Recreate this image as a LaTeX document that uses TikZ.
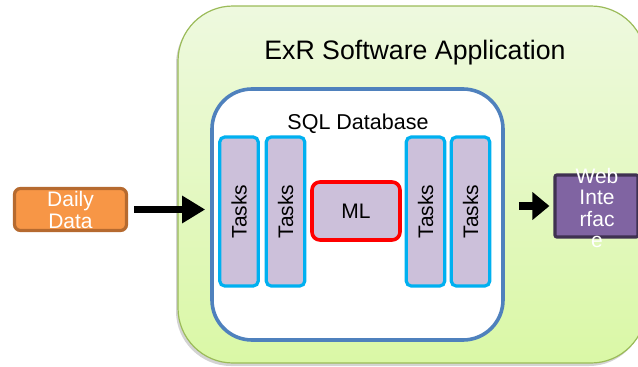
\documentclass[tikz,border=0pt]{standalone}
\usepackage{fontspec}
\setmainfont{Liberation Sans}
\usetikzlibrary{arrows.meta,shadows}
\definecolor{appfillA}{HTML}{EEF9DF}
\definecolor{appfillB}{HTML}{DAF8A6}
\definecolor{appedge}{HTML}{9BBB59}
\definecolor{dbedge}{HTML}{4F81BD}
\definecolor{taskedge}{HTML}{00B0F0}
\definecolor{taskfill}{HTML}{CCC0DA}
\definecolor{mledge}{HTML}{FF0000}
\definecolor{datafill}{HTML}{F79646}
\definecolor{dataedge}{HTML}{B66A2F}
\definecolor{webfill}{HTML}{8064A2}
\definecolor{webedge}{HTML}{3F3151}
\tikzset{
  taskbox/.style={draw=taskedge, fill=taskfill, line width=3.2pt, rounded corners=5pt,
    minimum width=38.5pt, minimum height=149pt, inner sep=0pt},
  tasklabel/.style={rotate=90, font=\fontsize{21}{24}\selectfont},
  bigarrow/.style={line width=7pt,
    drop shadow={opacity=0.25, shadow xshift=1.5pt, shadow yshift=-2pt}},
}
\begin{document}
\begin{tikzpicture}[x=1pt,y=-1pt]
\useasboundingbox (0,0) rectangle (638,367);
% application panel
\node[draw=appedge, line width=1.2pt, rounded corners=55pt, top color=appfillA, bottom color=appfillB,
  minimum width=468pt, minimum height=357pt, inner sep=0pt,
  drop shadow={opacity=0.35, shadow xshift=-2pt, shadow yshift=-3pt}]
  (app) at (412,184.5) {};
\node[font=\fontsize{26.7}{30}\selectfont] (apptitle) at (415,52.5) {ExR Software Application};
% database panel
\node[draw=dbedge, fill=white, line width=3.6pt, rounded corners=40pt,
  minimum width=291pt, minimum height=251pt, inner sep=0pt] (db) at (357.5,214.5) {};
\node[font=\fontsize{21.5}{24}\selectfont] (dbtitle) at (358,124) {SQL Database};
% task columns
\node[taskbox] (t1) at (239,211.5) {};
\node[taskbox] (t2) at (285.5,211.5) {};
\node[taskbox] (t3) at (425.5,211.5) {};
\node[taskbox] (t4) at (470.5,211.5) {};
\foreach \t in {t1,t2,t3,t4}{\node[tasklabel] (\t lbl) at (\t) {Tasks};}
% model block
\node[draw=mledge, fill=taskfill, line width=3.6pt, rounded corners=8pt,
  minimum width=88pt, minimum height=58pt, font=\fontsize{21}{24}\selectfont] (ml) at (356,211) {ML};
% input
\node[draw=dataedge, fill=datafill, line width=3.2pt, rounded corners=6pt,
  minimum width=112pt, minimum height=42pt, inner sep=0pt, text=white,
  align=center, font=\fontsize{21}{22}\selectfont] (data) at (70.5,209.5) {Daily\\Data};
% output
\node[draw=webedge, fill=webfill, line width=3.2pt, rounded corners=2pt,
  minimum width=83pt, minimum height=62pt, inner sep=0pt] (web) at (596.5,206) {};
\node[text=white, align=center, font=\fontsize{21}{21.5}\selectfont] (weblbl) at (597,208) {Web\\Inte\\rfac\\e};
% flow arrows
\draw[bigarrow, -{Triangle[length=23pt,width=26pt]}] ([xshift=6pt]data.east) -- ([xshift=-5pt]db.west |- data.east);
\draw[bigarrow, line width=8pt, -{Triangle[length=17pt,width=27pt]}] ([xshift=14pt]db.east |- web.west) -- ([xshift=-4pt]web.west);
\end{tikzpicture}
\end{document}
